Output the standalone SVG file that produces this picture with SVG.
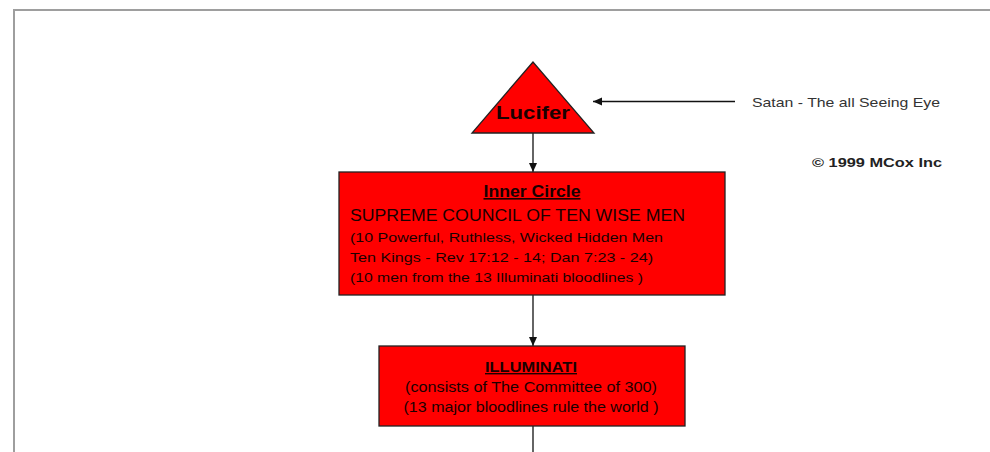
<svg xmlns="http://www.w3.org/2000/svg" width="990" height="452" viewBox="0 0 990 452">
<defs>
<style>
.node{fill:#ff0000;stroke:#222;stroke-width:1.3}
.t{font-family:"Liberation Sans",Arial,sans-serif;fill:#1a0000}
.b{font-weight:bold}
.c{text-anchor:middle}
.u{text-decoration:underline}
.conn{stroke:#111;stroke-width:1.3;fill:none}
</style>
<marker id="ah" markerWidth="10" markerHeight="10" refX="9" refY="5" orient="auto" markerUnits="userSpaceOnUse">
<path d="M0,1 L9,5 L0,9 Z" fill="#111"/>
</marker>
</defs>
<rect width="990" height="452" fill="#fff"/>
<path d="M14,452 V10 H990" fill="none" stroke="#9e9e9e" stroke-width="2"/>
<g id="connectors">
<line class="conn" x1="533" y1="133" x2="533" y2="172" marker-end="url(#ah)"/>
<line class="conn" x1="533" y1="295" x2="533" y2="346" marker-end="url(#ah)"/>
<line class="conn" x1="533" y1="426" x2="533" y2="452"/>
<line class="conn" x1="735" y1="101.5" x2="593" y2="101.5" marker-end="url(#ah)"/>
</g>
<g id="lucifer">
<polygon class="node" points="533,62 472,133 594,133"/>
<text class="t b c" x="533" y="119" font-size="18" textLength="74" lengthAdjust="spacingAndGlyphs">Lucifer</text>
</g>
<g id="inner-circle">
<rect class="node" x="339" y="172" width="386" height="123"/>
<text class="t b c u" x="532" y="197" font-size="16" textLength="97" lengthAdjust="spacingAndGlyphs">Inner Circle</text>
<text class="t" x="350" y="221" font-size="16" textLength="335" lengthAdjust="spacingAndGlyphs">SUPREME COUNCIL OF TEN WISE MEN</text>
<text class="t" x="350" y="242" font-size="13.5" textLength="313" lengthAdjust="spacingAndGlyphs">(10 Powerful, Ruthless, Wicked Hidden Men</text>
<text class="t" x="350" y="262" font-size="13.5" textLength="303" lengthAdjust="spacingAndGlyphs">Ten Kings - Rev 17:12 - 14; Dan 7:23 - 24)</text>
<text class="t" x="350" y="282" font-size="13.5" textLength="293" lengthAdjust="spacingAndGlyphs">(10 men from the 13 Illuminati bloodlines )</text>
</g>
<g id="illuminati">
<rect class="node" x="379" y="346" width="306" height="80"/>
<text class="t b c u" x="531" y="372" font-size="14" textLength="92" lengthAdjust="spacingAndGlyphs">ILLUMINATI</text>
<text class="t c" x="531" y="392" font-size="14" textLength="252" lengthAdjust="spacingAndGlyphs">(consists of The Committee of 300)</text>
<text class="t c" x="531" y="412" font-size="14" textLength="255" lengthAdjust="spacingAndGlyphs">(13 major bloodlines rule the world )</text>
</g>
<g id="satan-label">
<text x="752" y="107" font-family="Liberation Sans,Arial,sans-serif" font-size="13.5" fill="#333" textLength="188" lengthAdjust="spacingAndGlyphs">Satan - The all Seeing Eye</text>
</g>
<g id="copyright">
<text x="812" y="167" font-family="Liberation Sans,Arial,sans-serif" font-size="13.5" font-weight="bold" fill="#222" textLength="130" lengthAdjust="spacingAndGlyphs">© 1999 MCox Inc</text>
</g>
</svg>
